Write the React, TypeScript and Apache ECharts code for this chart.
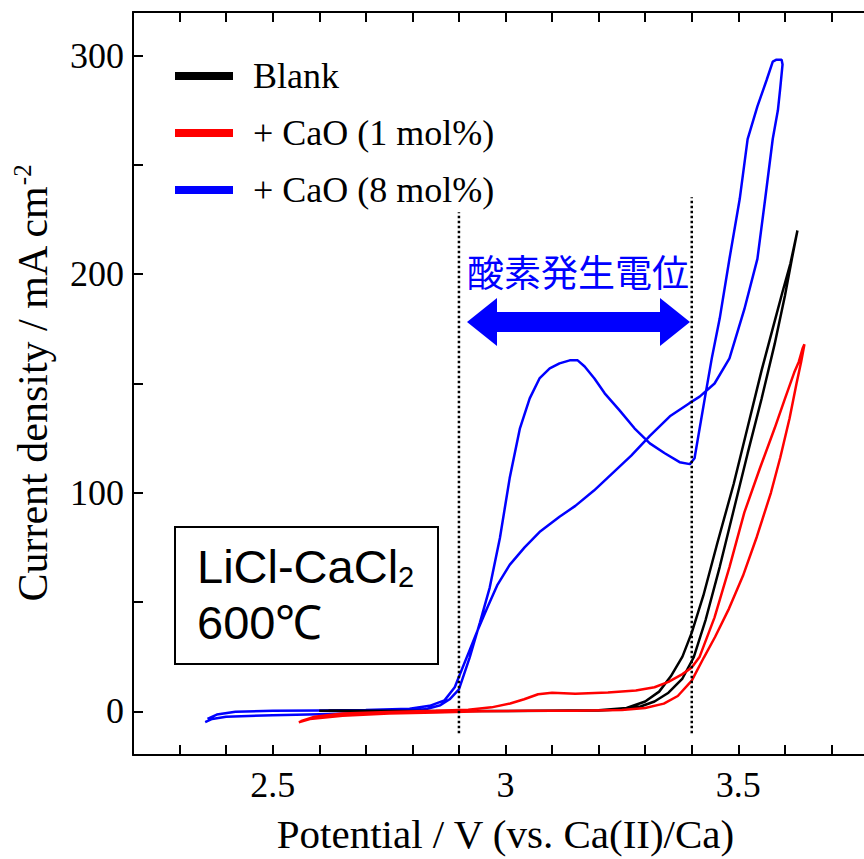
import React, { useEffect, useRef } from 'react';
import * as echarts from 'echarts';

// ---- data (potential V vs. Ca(II)/Ca, current density mA cm-2) ----
const seriesNames = ['Blank', '+ CaO (1 mol%)', '+ CaO (8 mol%)'];

const blankPotential = [2.60, 2.80, 3.00, 3.10, 3.20, 3.25, 3.29, 3.32, 3.35, 3.38, 3.404, 3.43, 3.46, 3.49, 3.52, 3.55, 3.578, 3.60, 3.615, 3.627,
  3.622, 3.612, 3.595, 3.575, 3.55, 3.52, 3.49, 3.455, 3.425, 3.40, 3.38, 3.355, 3.33, 3.30, 3.26, 3.20, 3.00, 2.80, 2.62];
const blankCurrent = [0.2, 0.1, 0.1, 0.2, 0.4, 0.9, 2.2, 4.5, 8.5, 15, 24.6, 42, 66, 92, 118, 143, 168, 190, 207, 220,
  215, 205, 192, 176, 156, 130, 104, 77, 53, 36, 25, 16, 9, 4.5, 1.5, 0.5, 0.1, 0.1, 0.2];

const cao1Potential = [2.556, 2.58, 2.65, 2.75, 2.85, 2.95, 3.05, 3.15, 3.25, 3.30, 3.34, 3.37, 3.40, 3.426, 3.45, 3.48, 3.51, 3.54, 3.57, 3.59, 3.61, 3.625, 3.635, 3.642,
  3.638, 3.63, 3.62, 3.60, 3.578, 3.546, 3.513, 3.481, 3.449, 3.417, 3.40, 3.38, 3.35, 3.32, 3.28, 3.22, 3.15, 3.10, 3.07, 3.04, 3.01, 2.97, 2.92, 2.85, 2.75, 2.65, 2.59, 2.56];
const cao1Current = [-5, -3.5, -2, -1, -0.5, 0, 0.2, 0.3, 0.6, 1.5, 3.5, 7, 14, 24.6, 34, 47, 62, 80, 100, 116, 134, 150, 160, 168,
  166, 160, 155, 143, 129.5, 111, 91, 66, 43, 25, 20, 17, 13.5, 11, 9.5, 8.6, 8, 8.5, 7.8, 5.5, 3.6, 1.8, 0.7, 0.2, -0.3, -1, -2.5, -4.5];

const cao8Potential = [2.355, 2.37, 2.40, 2.50, 2.60, 2.70, 2.78, 2.83, 2.86, 2.88, 2.90, 2.923, 2.945, 2.966, 2.988, 3.009, 3.031, 3.052, 3.073, 3.095, 3.116, 3.138, 3.155, 3.17, 3.191, 3.213, 3.245, 3.277, 3.31, 3.342, 3.374, 3.396, 3.406, 3.417, 3.428, 3.443, 3.46, 3.481, 3.503, 3.52, 3.541, 3.561, 3.574, 3.582, 3.593,
  3.595, 3.59, 3.585, 3.574, 3.558, 3.541, 3.513, 3.481, 3.449, 3.417, 3.395, 3.353, 3.31, 3.27, 3.23, 3.19, 3.15, 3.116, 3.073, 3.041, 3.009, 2.983, 2.962, 2.94, 2.923, 2.906, 2.891, 2.869, 2.837, 2.794, 2.70, 2.60, 2.50, 2.42, 2.38, 2.36];
const cao8Current = [-5, -3.5, -2.5, -1.8, -1.3, -0.8, -0.2, 1, 2.8, 5.5, 10, 24.6, 40.6, 56.5, 79.3, 106.7, 129.5, 143.2, 152.3, 156.9, 159.2, 160.6, 160.6, 157.8, 152.3, 145.5, 137.7, 129.5, 122.6, 118.1, 114, 113.1, 115.8, 129.5, 143.2, 161.5, 179.7, 207.1, 234.4, 261.8, 276.8, 289, 297.3, 298.2, 298.2,
  296, 285, 275, 262, 235, 207, 184, 161.5, 150, 144, 141, 135, 126, 117, 109, 101, 94, 89, 82, 75, 67, 58, 48, 37, 28, 19, 11, 5, 2.5, 1.2, 0.6, 0.4, 0.2, -0.2, -1.5, -3.5];

const xTickValues = [2.3, 2.4, 2.5, 2.6, 2.7, 2.8, 2.9, 3.0, 3.1, 3.2, 3.3, 3.4, 3.5, 3.6, 3.7];
const xLabelValues = [2.5, 3, 3.5];
const yTickValues = [0, 50, 100, 150, 200, 250, 300];
const yLabelValues = [0, 100, 200, 300];

const markerPotentials = [2.9, 3.4];
const markerBottoms = [-10, -10];
const markerTops = [228.4, 235.2];

const colors = ['#000000', '#ff0000', '#0000ff'];

const zip = (xs: number[], ys: number[]) => xs.map((x, i) => [x, ys[i]]);

const SERIF = '"Liberation Serif", "Times New Roman", serif';
const SANS = '"Liberation Sans", Arial, sans-serif';

function buildOption(): any {
  const axisLineStyle = { color: '#000', width: 2 };
  const xBase = {
    type: 'value', min: 2.2, max: 3.8,
    splitLine: { show: false },
    axisLine: { show: true, onZero: false, lineStyle: axisLineStyle },
    axisTick: { show: true, inside: true, length: 10, lineStyle: { color: '#000', width: 2 }, customValues: xTickValues },
  };
  const curve = (name: string, data: number[][], color: string) => ({
    name, type: 'line', data, showSymbol: false, symbol: 'none', color,
    lineStyle: { color, width: 2.5 }, itemStyle: { color }, z: 3, silent: true,
  });
  const markers = markerPotentials.map((p, i) => ({
    name: 'marker' + i, type: 'line', showSymbol: false, symbol: 'none', silent: true, z: 4,
    data: [[p, markerBottoms[i]], [p, markerTops[i]]],
    lineStyle: { color: '#000', width: 2.5, type: [2.5, 2.5] },
  }));
  return {
    animation: false,
    backgroundColor: '#ffffff',
    grid: { left: 133, top: 12, width: 745, height: 745.5, containLabel: false },
    legend: {
      data: seriesNames, orient: 'vertical', left: 175, top: 58, padding: 0,
      icon: 'rect', itemWidth: 58, itemHeight: 8, itemGap: 21,
      selectedMode: false,
      textStyle: { fontSize: 36, fontFamily: SERIF, color: '#000', lineHeight: 36, padding: [0, 0, 0, 15] },
    },
    xAxis: [
      {
        ...xBase, position: 'bottom',
        axisLabel: { show: true, customValues: xLabelValues, fontSize: 36, fontFamily: SERIF, color: '#000', margin: 12 },
        name: 'Potential / V (vs. Ca(II)/Ca)', nameLocation: 'middle', nameGap: 58,
        nameTextStyle: { fontSize: 41, fontFamily: SERIF, color: '#000' },
      },
      { ...xBase, position: 'top', axisLabel: { show: false } },
    ],
    yAxis: [
      {
        type: 'value', min: -20, max: 320, position: 'left',
        splitLine: { show: false },
        axisLine: { show: true, onZero: false, lineStyle: axisLineStyle },
        axisTick: { show: true, inside: true, length: 10, lineStyle: { color: '#000', width: 2 }, customValues: yTickValues },
        axisLabel: { show: true, customValues: yLabelValues, fontSize: 36, fontFamily: SERIF, color: '#000', margin: 9 },
        name: '{a|Current density / mA cm}{b|-2}', nameLocation: 'middle', nameGap: 77, nameRotate: 90,
        nameTextStyle: {
          color: '#000',
          rich: {
            a: { fontSize: 42, fontFamily: SERIF, color: '#000', lineHeight: 46 },
            b: { fontSize: 25, fontFamily: SERIF, color: '#000', lineHeight: 26, verticalAlign: 'top' },
          },
        },
      },
    ],
    series: [
      curve(seriesNames[2], zip(cao8Potential, cao8Current), colors[2]),
      curve(seriesNames[0], zip(blankPotential, blankCurrent), colors[0]),
      curve(seriesNames[1], zip(cao1Potential, cao1Current), colors[1]),
      ...markers,
    ],
    graphic: [
      {
        type: 'rect', shape: { x: 175, y: 527, width: 263, height: 137 },
        style: { fill: '#ffffff', stroke: '#000', lineWidth: 2 }, z: 10,
      },
      {
        type: 'text', x: 197, y: 566, z: 11,
        style: {
          text: '{a|LiCl-CaCl}{b|2}',
          verticalAlign: 'middle', textVerticalAlign: 'middle',
          rich: {
            a: { fontSize: 47, fontFamily: SANS, fill: '#000', lineHeight: 50 },
            b: { fontSize: 29, fontFamily: SANS, fill: '#000', lineHeight: 8, verticalAlign: 'bottom' },
          },
        },
      },
      {
        type: 'text', x: 197, y: 622, z: 11,
        style: { text: '600℃', fontSize: 47, fontFamily: SANS, fill: '#000', verticalAlign: 'middle', textVerticalAlign: 'middle' },
      },
      {
        type: 'text', x: 578, y: 271, z: 11,
        style: {
          text: '酸素発生電位', fontSize: 37, fontFamily: '"Noto Sans CJK JP", sans-serif', fill: '#0000ff',
          align: 'center', textAlign: 'center', verticalAlign: 'middle', textVerticalAlign: 'middle',
        },
      },
      {
        type: 'polygon', z: 11,
        shape: {
          points: [[467, 322], [497, 298], [497, 312], [660, 312], [660, 298], [690, 322], [660, 346], [660, 332], [497, 332], [497, 346]],
        },
        style: { fill: '#0000ff' },
      },
    ],
  };
}

export default function App() {
  const ref = useRef<HTMLDivElement>(null);
  useEffect(() => {
    if (!ref.current) return;
    const chart = echarts.init(ref.current, null, { renderer: 'svg' });
    chart.setOption(buildOption());
    return () => chart.dispose();
  }, []);
  return (
    <div style={{ position: 'absolute', left: 0, top: 0, width: 864, height: 859, overflow: 'hidden', background: '#fff' }}>
      <div ref={ref} style={{ width: 900, height: 859 }} />
    </div>
  );
}
